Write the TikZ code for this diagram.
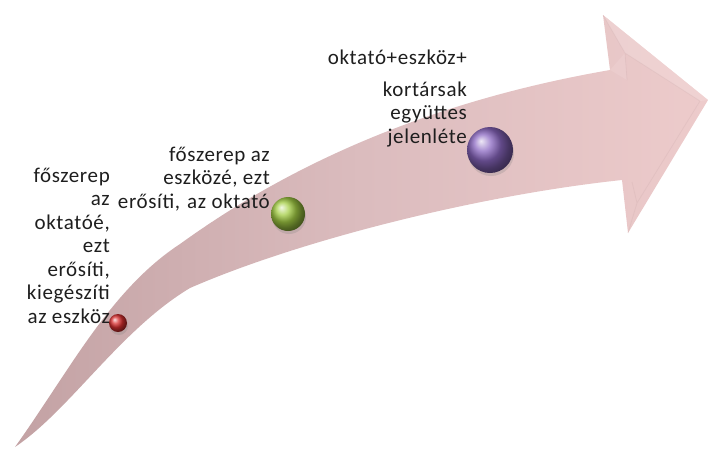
\documentclass[tikz,border=0pt]{standalone}
\usepackage{fontspec}
\setmainfont{Carlito}[LetterSpace=3]
\usetikzlibrary{shadows}

\definecolor{bandtail}{HTML}{C3A2A4}
\definecolor{bandmid}{HTML}{DBBCBE}
\definecolor{bandhead}{HTML}{EDCBCB}
\definecolor{bevel}{HTML}{F4DCDC}
\definecolor{beadred}{HTML}{D93030}
\definecolor{beadgreen}{HTML}{A4CE44}
\definecolor{beadpurple}{HTML}{8B68C2}
\definecolor{labelgray}{HTML}{1E1E1E}

\tikzset{
  bead/.style={circle, inner sep=0pt, shading=ball, ball color=#1,
    drop shadow={shadow xshift=1pt, shadow yshift=-3pt, opacity=0.25}},
  label text/.style={align=right, anchor=base east, inner sep=0pt,
    text=labelgray, font=\fontsize{21}{23.5}\selectfont},
}

\begin{document}
\begin{tikzpicture}[x=1pt, y=-1pt]
\useasboundingbox (0,0) rectangle (709,448);

% curved band ending in an arrow head
\path[left color=bandtail, right color=bandhead, middle color=bandmid]
  (15,447) .. controls (70,370) and (110,290) .. (180,244)
  .. controls (255,190) and (390,108) .. (610,70)
  -- (603,15) -- (708,100) -- (628,233) -- (622,180)
  .. controls (480,195) and (300,240) .. (190,288)
  .. controls (120,330) and (70,410) .. (15,447)
  -- cycle;

% bevel facets of the head
\fill[bevel, opacity=0.45] (603,15) -- (625,53) -- (700,101) -- (708,100) -- cycle;
\fill[bevel, opacity=0.25] (610,70) -- (625,53) -- (627,80) -- cycle;
\draw[bandtail, opacity=0.2, line width=0.8pt, line join=round]
  (603,15) -- (625,53) -- (627,80)
  (625,53) -- (700,101) -- (637,203) -- (628,233)
  (637,203) -- (632,182);

% beads on the band
\node[bead=beadred, minimum size=18pt] (b1) at (118,323) {};
\node[bead=beadgreen, minimum size=34pt] (b2) at (288,214) {};
\node[bead=beadpurple, minimum size=46pt] (b3) at (490,150) {};

% labels (anchored on the baseline of their last line)
\node[label text] (t1) at (110,323)
  {főszerep\\az\\oktatóé,\\ezt\\erősíti,\\kiegészíti\\az eszköz};
\node[label text] (t2) at (270,208)
  {főszerep az\\eszközé, ezt\\erősíti,\hspace*{7pt}az oktató};
\node[label text] (t3) at (467,143)
  {oktató+eszköz+\\[8.5pt]kortársak\\együttes\\jelenléte};
\end{tikzpicture}
\end{document}
